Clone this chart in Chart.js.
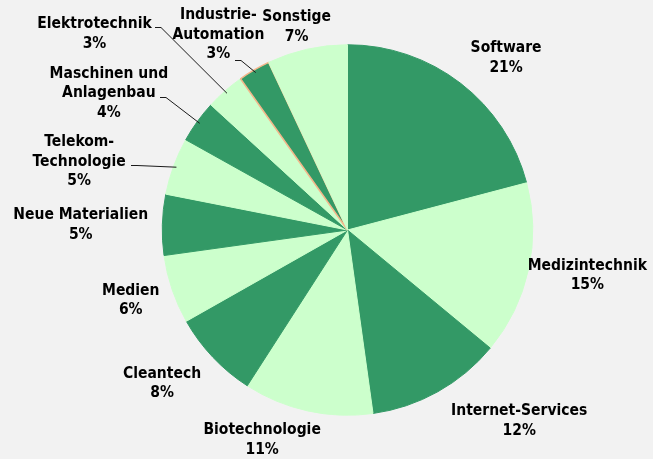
<!DOCTYPE html>
<html>
<head>
<meta charset="utf-8">
<script src="https://cdn.jsdelivr.net/npm/chart.js@4.4.0/dist/chart.umd.min.js"></script>
<style>
  html, body { margin: 0; padding: 0; background: #f2f2f2; }
  #wrap { width: 653px; height: 459px; }
</style>
</head>
<body>
<div id="wrap"><canvas id="pie" width="653" height="459"></canvas></div>
<script>
// Daten (Anteile in %)
const categories = [
    'Software', 'Medizintechnik', 'Internet-Services', 'Biotechnologie',
    'Cleantech', 'Medien', 'Neue Materialien', 'Telekom-\nTechnologie',
    'Maschinen und\nAnlagenbau', 'Elektrotechnik', 'Industrie-\nAutomation', 'Sonstige'
];
const values = [20.9, 15.1, 11.8, 11.3, 7.7, 6.0, 5.3, 5.0, 3.7, 3.4, 2.8, 7.0];

// Farben
const dunkel = '#339966';
const hell = '#ccffcc';
const sliceColors = categories.map((c, i) => i % 2 === 0 ? dunkel : hell);
const borderColors = sliceColors.map((c, i) => i === 10 ? '#f4b68a' : c);
const borderWidths = sliceColors.map((c, i) => i === 10 ? 1.5 : 1);

// Label-Layout: Versatz vom Bogenpunkt in der Segmentmitte
const labelOffsets = [
    [45.5, -25.2], [58.9, 5.5], [81.4, 29.1], [-45.5, 28.9],
    [-50.8, 26.3], [-41.3, 10.8], [-81.6, 0.1], [-94.4, -4.4],
    [-88.4, -28.4], [-130.5, -57], [-35.8, -35.1], [-10.4, -22]
];
// Ansatzpunkt der Führungslinie relativ zur Label-Mitte (null = keine Linie)
const leaderFrom = [null, null, null, null, null, null, null,
    [51.5, 3], [51, 4], [61, -7.5], [17, 25.5], null];

// Schrift: DejaVu Sans Condensed falls vorhanden, sonst DejaVu Sans etwas kleiner
function pickFont() {
    const c = document.createElement('canvas').getContext('2d');
    c.font = "bold 16px 'DejaVu Sans Condensed', monospace";
    const a = c.measureText('Software').width;
    c.font = 'bold 16px monospace';
    const b = c.measureText('Software').width;
    return a !== b ? "bold 15.5px 'DejaVu Sans Condensed'" : "bold 14px 'DejaVu Sans'";
}
const labelFont = pickFont();
const lineHeight = 19.5;

const labelPlugin = {
    id: 'pieLabels',
    afterDatasetsDraw(chart) {
        const ctx = chart.ctx;
        const meta = chart.getDatasetMeta(0);
        const total = values.reduce((s, v) => s + v, 0);
        ctx.save();
        ctx.font = labelFont;
        ctx.fillStyle = '#000';
        ctx.textAlign = 'center';
        ctx.textBaseline = 'middle';
        meta.data.forEach((arc, i) => {
            const p = arc.getProps(['x', 'y', 'startAngle', 'endAngle', 'outerRadius'], true);
            const mid = (p.startAngle + p.endAngle) / 2;
            const ax = p.x + Math.cos(mid) * p.outerRadius;
            const ay = p.y + Math.sin(mid) * p.outerRadius;
            const cx = ax + labelOffsets[i][0];
            const cy = ay + labelOffsets[i][1];
            const lines = categories[i].split('\n').concat(Math.round(values[i] / total * 100) + '%');
            const top = cy - (lines.length - 1) * lineHeight / 2;
            lines.forEach((t, k) => ctx.fillText(t, cx, top + k * lineHeight));

            if (leaderFrom[i]) {
                // Linie endet knapp innerhalb des Bogens
                const ex = p.x + Math.cos(mid) * (p.outerRadius - 3);
                const ey = p.y + Math.sin(mid) * (p.outerRadius - 3);
                const lx = Math.round(cx + leaderFrom[i][0]);
                const ly = Math.round(cy + leaderFrom[i][1]) + 0.5;
                ctx.beginPath();
                ctx.strokeStyle = '#1a1a1a';
                ctx.lineWidth = 1;
                ctx.moveTo(lx, ly);
                ctx.lineTo(lx + 6, ly);
                ctx.lineTo(ex, ey);
                ctx.stroke();
            }
        });
        ctx.restore();
    }
};

new Chart(document.getElementById('pie'), {
    type: 'pie',
    data: {
        labels: categories,
        datasets: [{
            data: values,
            backgroundColor: sliceColors,
            borderColor: borderColors,
            borderWidth: borderWidths,
            hoverOffset: 0,
            offset: 0
        }]
    },
    options: {
        responsive: false,
        devicePixelRatio: 1,
        animation: false,
        events: [],
        layout: { padding: { top: 44, bottom: 43, left: 42, right: 0 } },
        plugins: {
            legend: { display: false },
            tooltip: { enabled: false }
        }
    },
    plugins: [labelPlugin]
});
</script>
</body>
</html>
